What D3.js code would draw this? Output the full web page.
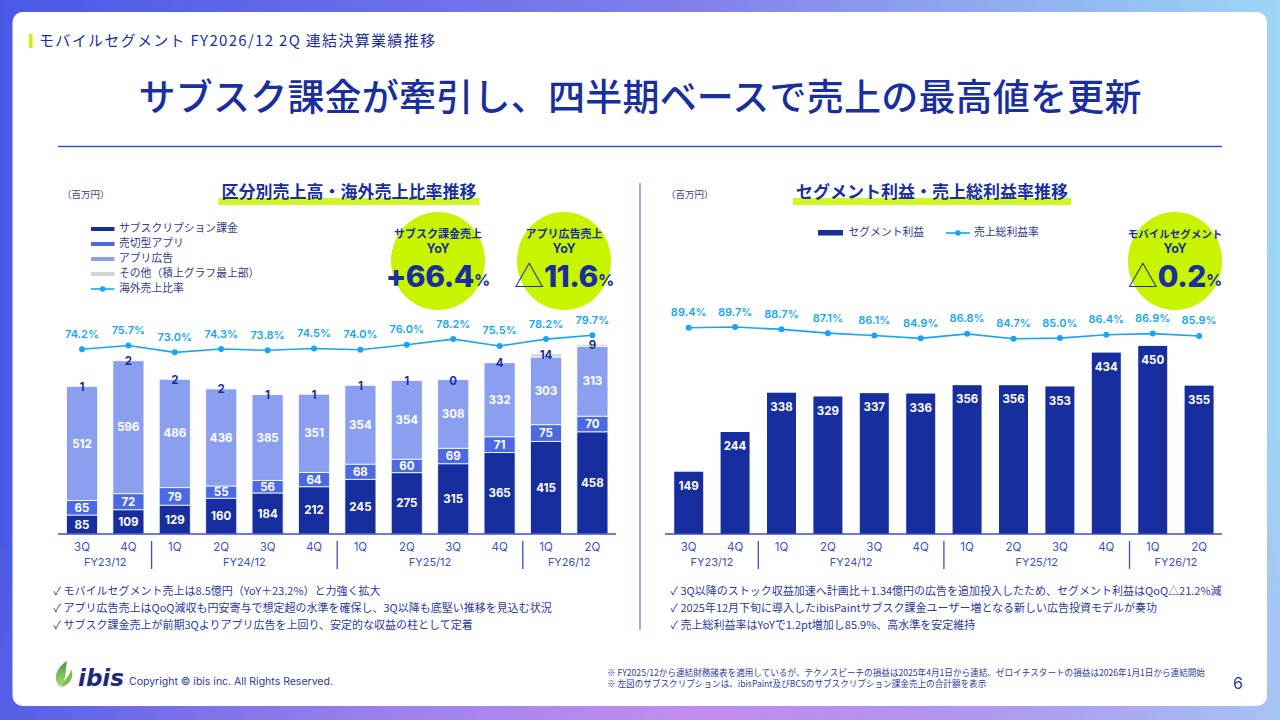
<!DOCTYPE html>
<html lang="ja">
<head>
<meta charset="UTF-8" />
<title>モバイルセグメント FY2026/12 2Q 連結決算業績推移</title>
<script src="https://cdn.jsdelivr.net/npm/d3@7"></script>
<style>
  html, body { margin: 0; padding: 0; width: 1280px; height: 720px; overflow: hidden; }
  svg text { font-family: Inter, "Noto Sans CJK JP", sans-serif; }
</style>
</head>
<body>
<div id="chart"></div>
<script>
// ---- data ----
const quarters = ["3Q", "4Q", "1Q", "2Q", "3Q", "4Q", "1Q", "2Q", "3Q", "4Q", "1Q", "2Q"];
const fyLabels = ["FY23/12", "FY24/12", "FY25/12", "FY26/12"];
const fyOfQuarter = [0, 0, 1, 1, 1, 1, 2, 2, 2, 2, 3, 3];

// left: sales by type (百万円)
const subsSales = [85, 109, 129, 160, 184, 212, 245, 275, 315, 365, 415, 458];
const selloutSales = [65, 72, 79, 55, 56, 64, 68, 60, 69, 71, 75, 70];
const adSales = [512, 596, 486, 436, 385, 351, 354, 354, 308, 332, 303, 313];
const otherSales = [1, 2, 2, 2, 1, 1, 1, 1, 0, 4, 14, 9];
const overseasRatio = [74.2, 75.7, 73.0, 74.3, 73.8, 74.5, 74.0, 76.0, 78.2, 75.5, 78.2, 79.7];

// right: segment profit and gross margin
const segmentProfit = [149, 244, 338, 329, 337, 336, 356, 356, 353, 434, 450, 355];
const grossMargin = [89.4, 89.7, 88.7, 87.1, 86.1, 84.9, 86.8, 84.7, 85.0, 86.4, 86.9, 85.9];

const leftLegend = ["サブスクリプション課金", "売切型アプリ", "アプリ広告", "その他（積上グラフ最上部）", "海外売上比率"];
const rightLegend = ["セグメント利益", "売上総利益率"];

const leftNotes = [
  "✓ モバイルセグメント売上は8.5億円（YoY＋23.2%）と力強く拡大",
  "✓ アプリ広告売上はQoQ減収も円安寄与で想定超の水準を確保し、3Q以降も底堅い推移を見込む状況",
  "✓ サブスク課金売上が前期3Qよりアプリ広告を上回り、安定的な収益の柱として定着"
];
const rightNotes = [
  "✓ 3Q以降のストック収益加速へ計画比＋1.34億円の広告を追加投入したため、セグメント利益はQoQ△21.2%減",
  "✓ 2025年12月下旬に導入したibisPaintサブスク課金ユーザー増となる新しい広告投資モデルが奏功",
  "✓ 売上総利益率はYoYで1.2pt増加し85.9%、高水準を安定維持"
];
const footnotes = [
  "※ FY2025/12から連結財務諸表を適用しているが、テクノスピーチの損益は2025年4月1日から連結、ゼロイチスタートの損益は2026年1月1日から連結開始",
  "※ 左図のサブスクリプションは、ibisPaint及びBCSのサブスクリプション課金売上の合計額を表示"
];

// ---- colours ----
const NAVY = "#1a2f9f";
const TXT = "#2a3a9c";
const AXIS = "#3a4fc4";
const LIME = "#c8f400";
const LINE = "#17a6f5";
const segColors = { subs: "#172e9e", sellout: "#4a69e3", ads: "#8b9ff0", other: "#d3d3d6" };

const svg = d3.select("#chart").append("svg")
  .attr("width", 1280).attr("height", 720);

// background
const defs = svg.append("defs");
const bg = defs.append("linearGradient").attr("id", "bg").attr("x1", 0).attr("x2", 1).attr("y1", 0).attr("y2", 0);
bg.append("stop").attr("offset", 0).attr("stop-color", "#4a59e5");
bg.append("stop").attr("offset", 0.55).attr("stop-color", "#8380ec");
bg.append("stop").attr("offset", 1).attr("stop-color", "#9ed6f6");
const bg2 = defs.append("radialGradient").attr("id", "bg2").attr("cx", 0.55).attr("cy", 1).attr("r", 0.6);
bg2.append("stop").attr("offset", 0).attr("stop-color", "#c48ef0").attr("stop-opacity", 0.95);
bg2.append("stop").attr("offset", 1).attr("stop-color", "#c48ef0").attr("stop-opacity", 0);
const leaf = defs.append("linearGradient").attr("id", "leaf").attr("x1", 0).attr("x2", 0).attr("y1", 0).attr("y2", 1);
leaf.append("stop").attr("offset", 0).attr("stop-color", "#3c9a3a");
leaf.append("stop").attr("offset", 1).attr("stop-color", "#b5dd7a");

svg.append("rect").attr("width", 1280).attr("height", 720).attr("fill", "url(#bg)");
svg.append("rect").attr("width", 1280).attr("height", 720).attr("fill", "url(#bg2)");
svg.append("rect").attr("x", 12.5).attr("y", 12).attr("width", 1254.5).attr("height", 694)
  .attr("rx", 10).attr("fill", "#fff");

// header
svg.append("rect").attr("x", 29).attr("y", 34).attr("width", 3.5).attr("height", 14).attr("fill", LIME);
svg.append("text").attr("x", 39).attr("y", 41.5).attr("dominant-baseline", "middle")
  .attr("font-size", 15).attr("fill", NAVY).attr("textLength", 396)
  .style("font-family", "'Noto Sans CJK JP', sans-serif")
  .text("モバイルセグメント FY2026/12 2Q 連結決算業績推移");
svg.append("text").attr("x", 640).attr("y", 101).attr("text-anchor", "middle")
  .attr("dominant-baseline", "middle").attr("font-size", 37).attr("font-weight", 500)
  .attr("fill", NAVY).attr("textLength", 1003)
  .style("font-family", "'Noto Sans CJK JP', sans-serif")
  .text("サブスク課金が牽引し、四半期ベースで売上の最高値を更新");
svg.append("line").attr("x1", 58).attr("x2", 1222).attr("y1", 146.5).attr("y2", 146.5)
  .attr("stroke", "#3b4fb5").attr("stroke-width", 1.5);

// vertical divider
svg.append("line").attr("x1", 640).attr("x2", 640).attr("y1", 183).attr("y2", 630)
  .attr("stroke", "#7d8fd8").attr("stroke-width", 1.5);

// panel titles with lime underline
function panelTitle(cx, label) {
  const t = svg.append("text").attr("x", cx).attr("y", 193).attr("text-anchor", "middle")
    .attr("dominant-baseline", "middle").attr("font-size", 17).attr("font-weight", 700)
    .attr("fill", NAVY).style("font-family", "'Noto Sans CJK JP', sans-serif").text(label);
  const w = t.node().getComputedTextLength() + 6;
  svg.insert("rect", () => t.node()).attr("x", cx - w / 2).attr("y", 198).attr("width", w)
    .attr("height", 7).attr("fill", LIME).attr("opacity", 0.85);
}
panelTitle(349, "区分別売上高・海外売上比率推移");
panelTitle(932, "セグメント利益・売上総利益率推移");

svg.selectAll("text.unit").data([62, 666]).join("text").attr("class", "unit")
  .attr("x", d => d).attr("y", 195).attr("dominant-baseline", "middle")
  .attr("font-size", 9.5).attr("fill", "#3a4580")
  .style("font-family", "'Noto Sans CJK JP', sans-serif").text("（百万円）");

// shared bits
const baseY = 534;
function drawXAxis(x, xMin, xMax) {
  svg.append("line").attr("x1", xMin).attr("x2", xMax).attr("y1", baseY).attr("y2", baseY)
    .attr("stroke", AXIS).attr("stroke-width", 1.6);
  const ax = svg.append("g").attr("transform", `translate(0,${baseY})`)
    .call(d3.axisBottom(x).tickSize(0).tickPadding(9).tickFormat(i => quarters[i]));
  ax.select(".domain").remove();
  ax.selectAll("text").attr("font-size", 11.5).attr("fill", AXIS)
    .style("font-family", "Inter, sans-serif");
  const cx = i => x(i) + x.bandwidth() / 2;
  svg.selectAll(null).data(fyLabels).join("text")
    .attr("x", (d, g) => {
      const idx = d3.range(quarters.length).filter(i => fyOfQuarter[i] === g);
      return (cx(idx[0]) + cx(idx[idx.length - 1])) / 2;
    })
    .attr("y", 563).attr("text-anchor", "middle").attr("dominant-baseline", "middle")
    .attr("font-size", 11).attr("fill", AXIS).text(d => d);
  const breaks = d3.range(1, quarters.length).filter(i => fyOfQuarter[i] !== fyOfQuarter[i - 1]);
  svg.selectAll(null).data(breaks).join("line")
    .attr("x1", i => (cx(i - 1) + cx(i)) / 2).attr("x2", i => (cx(i - 1) + cx(i)) / 2)
    .attr("y1", 541).attr("y2", 569).attr("stroke", AXIS).attr("stroke-width", 1.3);
}

function drawRatioLine(x, y, values) {
  const cx = i => x(i) + x.bandwidth() / 2;
  svg.append("path").datum(values)
    .attr("d", d3.line().x((d, i) => cx(i)).y(d => y(d)))
    .attr("fill", "none").attr("stroke", LINE).attr("stroke-width", 1.6);
  svg.selectAll(null).data(values).join("circle")
    .attr("cx", (d, i) => cx(i)).attr("cy", d => y(d)).attr("r", 3).attr("fill", LINE);
  svg.selectAll(null).data(values).join("text")
    .attr("x", (d, i) => cx(i)).attr("y", d => y(d) - 14.5)
    .attr("text-anchor", "middle").attr("dominant-baseline", "middle")
    .attr("font-size", 11).attr("font-weight", 600).attr("fill", LINE)
    .text(d => d.toFixed(1) + "%");
}

function yoyBadge(cx, head, body, sizeHead) {
  const cy = 261;
  svg.append("ellipse").attr("cx", cx).attr("cy", cy).attr("rx", 47).attr("ry", 49).attr("fill", LIME);
  svg.append("text").attr("x", cx).attr("y", 235).attr("text-anchor", "middle")
    .attr("dominant-baseline", "middle").attr("font-size", sizeHead).attr("font-weight", 700)
    .attr("fill", NAVY).style("font-family", "'Noto Sans CJK JP', sans-serif").text(head);
  svg.append("text").attr("x", cx).attr("y", 250).attr("text-anchor", "middle")
    .attr("dominant-baseline", "middle").attr("font-size", 12.5).attr("font-weight", 700)
    .attr("fill", NAVY).text("YoY");
  const t = svg.append("text").attr("x", cx).attr("y", 279).attr("text-anchor", "middle")
    .attr("dominant-baseline", "middle").attr("fill", NAVY);
  if (body.startsWith("△")) {
    t.append("tspan").attr("font-size", 30).attr("font-weight", 300)
      .style("font-family", "'Noto Sans CJK JP', sans-serif").text("△");
    t.append("tspan").attr("font-size", 30).attr("font-weight", 800).attr("letter-spacing", -0.5)
      .text(body.slice(1));
  } else {
    t.append("tspan").attr("font-size", 30).attr("font-weight", 800).attr("letter-spacing", -0.5).text(body);
  }
  t.append("tspan").attr("font-size", 16).attr("font-weight", 700).attr("dy", 3).text("%");
}

// ================= LEFT CHART =================
const xL = d3.scaleBand().domain(d3.range(quarters.length)).range([58.8, 615.6])
  .paddingInner(0.33).paddingOuter(0.165);
const yL = d3.scaleLinear().domain([0, 850]).range([baseY, 344.3]);
const yLr = d3.scaleLinear().domain([70, 80]).range([360, 334.5]);

const rowsL = quarters.map((q, i) => ({
  subs: subsSales[i], sellout: selloutSales[i], ads: adSales[i], other: otherSales[i]
}));
const keysL = ["subs", "sellout", "ads", "other"];
const stackL = d3.stack().keys(keysL)(rowsL);

const layer = svg.selectAll("g.layerL").data(stackL).join("g").attr("class", "layerL")
  .attr("fill", d => segColors[d.key]);
layer.selectAll("rect").data(d => d).join("rect")
  .attr("x", (d, i) => xL(i)).attr("width", xL.bandwidth())
  .attr("y", d => yL(d[1])).attr("height", d => yL(d[0]) - yL(d[1]))
  .attr("stroke", "#ffffff").attr("stroke-opacity", 0.8).attr("stroke-width", 1);

stackL.forEach(s => {
  const isTop = s.key === "other";
  svg.selectAll(null).data(s).join("text")
    .attr("x", (d, i) => xL(i) + xL.bandwidth() / 2)
    .attr("y", d => isTop ? yL(d[1]) + 2 : (yL(d[0]) + yL(d[1])) / 2 + 1)
    .attr("text-anchor", "middle").attr("dominant-baseline", "middle")
    .attr("font-size", 11.5).attr("font-weight", 700)
    .attr("fill", isTop ? NAVY : "#ffffff")
    .text(d => d.data[s.key]);
});

drawXAxis(xL, 58, 616);
drawRatioLine(xL, yLr, overseasRatio);

// left legend
const legL = svg.append("g");
leftLegend.forEach((lab, i) => {
  const y = 229 + i * 15;
  if (i < 4) {
    legL.append("rect").attr("x", 91).attr("y", y - 2).attr("width", 23.5).attr("height", 4)
      .attr("fill", segColors[keysL[i]]);
  } else {
    legL.append("line").attr("x1", 91).attr("x2", 114.5).attr("y1", y).attr("y2", y)
      .attr("stroke", LINE).attr("stroke-width", 1.6);
    legL.append("circle").attr("cx", 102.7).attr("cy", y).attr("r", 2.8).attr("fill", LINE);
  }
  legL.append("text").attr("x", 119).attr("y", y).attr("dominant-baseline", "middle")
    .attr("font-size", 10.8).attr("fill", "#2f3a8a")
    .style("font-family", "'Noto Sans CJK JP', sans-serif").text(lab);
});

yoyBadge(438, "サブスク課金売上", "+66.4", 11);
yoyBadge(564, "アプリ広告売上", "△11.6", 11);

// ================= RIGHT CHART =================
const xR = d3.scaleBand().domain(d3.range(quarters.length)).range([665.5, 1222.3])
  .paddingInner(0.375).paddingOuter(0.1875);
const yR = d3.scaleLinear().domain([0, 450]).range([baseY, 345.9]);
const yRr = d3.scaleLinear().domain([80, 90]).range([349.9, 326.3]);

svg.selectAll("rect.profit").data(segmentProfit).join("rect").attr("class", "profit")
  .attr("x", (d, i) => xR(i)).attr("width", xR.bandwidth())
  .attr("y", d => yR(d)).attr("height", d => baseY - yR(d)).attr("fill", segColors.subs);
svg.selectAll("text.profit").data(segmentProfit).join("text").attr("class", "profit")
  .attr("x", (d, i) => xR(i) + xR.bandwidth() / 2).attr("y", d => yR(d) + 15)
  .attr("text-anchor", "middle").attr("dominant-baseline", "middle")
  .attr("font-size", 11.5).attr("font-weight", 700).attr("fill", "#fff").text(d => d);

drawXAxis(xR, 665, 1222);
drawRatioLine(xR, yRr, grossMargin);

// right legend
svg.append("rect").attr("x", 818).attr("y", 230).attr("width", 25).attr("height", 5.5).attr("fill", segColors.subs);
svg.append("text").attr("x", 848.5).attr("y", 233).attr("dominant-baseline", "middle")
  .attr("font-size", 10.8).attr("fill", "#2f3a8a")
  .style("font-family", "'Noto Sans CJK JP', sans-serif").text(rightLegend[0]);
svg.append("line").attr("x1", 946).attr("x2", 970).attr("y1", 233).attr("y2", 233)
  .attr("stroke", LINE).attr("stroke-width", 1.6);
svg.append("circle").attr("cx", 958).attr("cy", 233).attr("r", 2.8).attr("fill", LINE);
svg.append("text").attr("x", 974).attr("y", 233).attr("dominant-baseline", "middle")
  .attr("font-size", 10.8).attr("fill", "#2f3a8a")
  .style("font-family", "'Noto Sans CJK JP', sans-serif").text(rightLegend[1]);

yoyBadge(1175, "モバイルセグメント", "△0.2", 10.5);

// ================= NOTES / FOOTER =================
function notes(x, lines) {
  svg.selectAll(null).data(lines).join("text")
    .attr("x", x).attr("y", (d, i) => 592 + i * 17).attr("dominant-baseline", "middle")
    .attr("font-size", 11).attr("fill", TXT)
    .style("font-family", "'Noto Sans CJK JP', sans-serif").text(d => d);
}
notes(53.5, leftNotes);
notes(670.5, rightNotes);

svg.selectAll(null).data(footnotes).join("text")
  .attr("x", 607).attr("y", (d, i) => 674 + i * 11).attr("dominant-baseline", "middle")
  .attr("font-size", 8.6).attr("fill", TXT)
  .style("font-family", "'Noto Sans CJK JP', sans-serif").text(d => d);

svg.append("text").attr("x", 1238).attr("y", 685).attr("text-anchor", "middle")
  .attr("dominant-baseline", "middle").attr("font-size", 16).attr("fill", TXT).text("6");

// logo
svg.append("path").attr("d", "M60,687 C52,679 56,668 67,661 C65,671 67,680 60,687 Z").attr("fill", "url(#leaf)");
svg.append("path").attr("d", "M61,687 C63,680 70,677 71,669 C75,677 70,685 61,687 Z").attr("fill", "#7cc04a");
svg.append("text").attr("x", 78).attr("y", 686).attr("font-size", 23).attr("font-weight", 700)
  .attr("font-style", "italic").attr("fill", "#1c2a78")
  .style("font-family", "'DejaVu Sans', sans-serif").text("ibis");
svg.append("text").attr("x", 129).attr("y", 682).attr("dominant-baseline", "middle")
  .attr("font-size", 10.5).attr("fill", TXT).text("Copyright © ibis inc. All Rights Reserved.");
</script>
</body>
</html>
